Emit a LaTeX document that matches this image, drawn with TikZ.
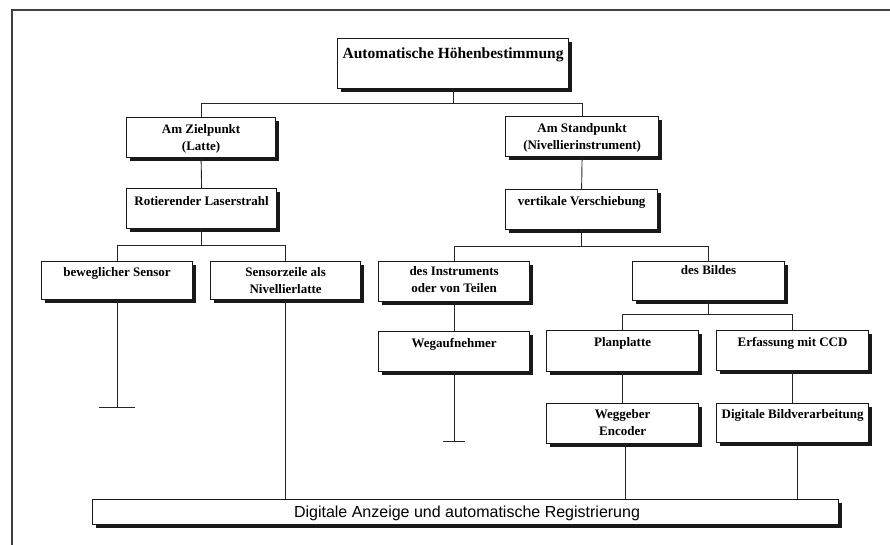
\documentclass[tikz,border=0pt]{standalone}
\usepackage{fontspec}
\setmainfont{Liberation Serif}
\newfontfamily\arialfont{Liberation Sans}
\usetikzlibrary{shadows}
\begin{document}
\begin{tikzpicture}[x=1pt,y=-1pt,
  box/.style={draw=black!90, line width=1.2pt, fill=white, inner sep=0pt, anchor=north west,
    drop shadow={shadow xshift=3.2pt, shadow yshift=-3.2pt, fill=black!90, opacity=1}},
  txt/.style={font=\fontsize{13}{16.5}\selectfont\bfseries, align=center, inner sep=0pt, anchor=north},
  conn/.style={draw=black!85, line width=0.9pt}]
\useasboundingbox (0,0) rectangle (890,545);
\draw[line width=1.6pt, black!75] (12,545) -- (12,10) -- (890,10);

% boxes
\node[box, minimum width=231pt, minimum height=50pt] (top) at (337,38) {};
\node[box, minimum width=149pt, minimum height=40pt] (zp) at (126,117) {};
\node[box, minimum width=153pt, minimum height=40pt] (sp) at (505,116) {};
\node[box, minimum width=150pt, minimum height=40pt] (rl) at (126,188) {};
\node[box, minimum width=152pt, minimum height=40pt] (vv) at (505,189) {};
\node[box, minimum width=151pt, minimum height=38pt] (bs) at (41,261) {};
\node[box, minimum width=150pt, minimum height=38pt] (sz) at (210,261) {};
\node[box, minimum width=151pt, minimum height=40pt] (di) at (378,261) {};
\node[box, minimum width=152pt, minimum height=39pt] (db) at (632,261) {};
\node[box, minimum width=151pt, minimum height=40pt] (wa) at (378,331) {};
\node[box, minimum width=152pt, minimum height=41pt] (pp) at (546,330) {};
\node[box, minimum width=152pt, minimum height=40pt] (ec) at (716,330) {};
\node[box, minimum width=152pt, minimum height=40pt] (we) at (546,403) {};
\node[box, minimum width=152pt, minimum height=39pt] (dbv) at (716,403) {};
\node[box, minimum width=746pt, minimum height=25pt] (bot) at (92,499) {};

% texts
\node[txt, font=\fontsize{15.5}{18}\selectfont\bfseries] (topT) at ([yshift=-7.9pt]top.north) {\strut Automatische Höhenbestimmung};
\node[txt] (zpT) at ([yshift=-4.9pt]zp.north) {\strut Am Zielpunkt\\\strut (Latte)};
\node[txt] (spT) at ([yshift=-4.9pt]sp.north) {\strut Am Standpunkt\\\strut (Nivellierinstrument)};
\node[txt] (rlT) at ([yshift=-5.5pt]rl.north) {\strut Rotierender Laserstrahl};
\node[txt] (vvT) at ([yshift=-4.9pt]vv.north) {\strut vertikale Verschiebung};
\node[txt] (bsT) at ([yshift=-4pt]bs.north) {\strut beweglicher Sensor};
\node[txt] (szT) at ([yshift=-4pt]sz.north) {\strut Sensorzeile als\\\strut Nivellierlatte};
\node[txt] (diT) at ([yshift=-3pt]di.north) {\strut des Instruments\\\strut oder von Teilen};
\node[txt] (dbT) at ([yshift=-1.5pt]db.north) {\strut des Bildes};
\node[txt] (waT) at ([yshift=-4.5pt]wa.north) {\strut Wegaufnehmer};
\node[txt] (ppT) at ([yshift=-4.9pt]pp.north) {\strut Planplatte};
\node[txt] (ecT) at ([yshift=-4.9pt]ec.north) {\strut Erfassung mit CCD};
\node[txt] (weT) at ([yshift=-4pt]we.north) {\strut Weggeber\\\strut Encoder};
\node[txt] (dbvT) at ([yshift=-4pt]dbv.north) {\strut Digitale Bildverarbeitung};
\node[font=\arialfont\fontsize{16}{19}\selectfont, anchor=base, inner sep=0pt] (botT) at (467,517) {Digitale Anzeige und automatische Registrierung};

% junctions
\coordinate (j1) at (453,103);
\coordinate (j2) at (201,245);
\coordinate (j3) at (581,246);
\coordinate (j4) at (708,314.6);

\draw[conn] (top.south) -- (top.south |- j1);
\draw[conn] (top.south |- j1) -| (zp.north);
\draw[conn] (top.south |- j1) -| (sp.north);

\draw[conn] (zp.south) -- (rl.north);
\draw[conn] (rl.south) -- (rl.south |- j2);
\draw[conn] (rl.south |- j2) -| (bs.north);
\draw[conn] (rl.south |- j2) -| (sz.north);

\draw[conn] (sp.south) -- (vv.north);
\draw[conn] (vv.south) -- (vv.south |- j3);
\draw[conn] (vv.south |- j3) -| (di.north);
\draw[conn] (vv.south |- j3) -| (db.north);

\draw[conn] (di.south) -- (wa.north);
\draw[conn] (db.south) -- (db.south |- j4);
\draw[conn] (db.south |- j4) -| (pp.north);
\draw[conn] (db.south |- j4) -| (ec.north);
\draw[conn] (pp.south) -- (we.north);
\draw[conn] (ec.south) -- (dbv.north);

% dead ends
\path (bs.south) ++(0,107) coordinate (t1);
\draw[conn] (bs.south) -- (t1);
\draw[conn] ([xshift=-18pt]t1) -- ([xshift=18pt]t1);
\path (wa.south) ++(0,69.5) coordinate (t2);
\draw[conn] (wa.south) -- (t2);
\draw[conn] ([xshift=-11pt]t2) -- ([xshift=11pt]t2);

% to bottom box
\draw[conn] (sz.south) -- (sz.south |- bot.north);
\path ([xshift=3pt]we.south) coordinate (w1);
\draw[conn] (w1) -- (w1 |- bot.north);
\path ([xshift=5pt]dbv.south) coordinate (w2);
\draw[conn] (w2) -- (w2 |- bot.north);
\end{tikzpicture}
\end{document}
